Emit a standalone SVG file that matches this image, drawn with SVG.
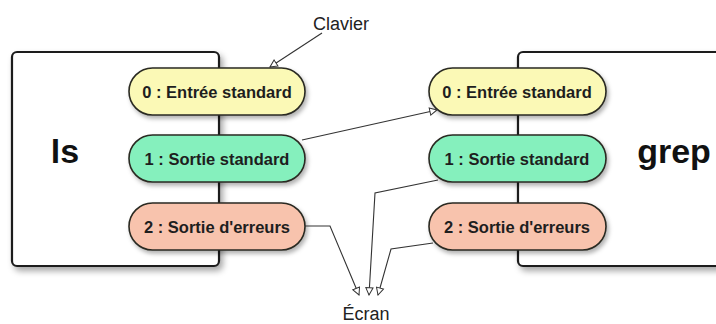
<svg xmlns="http://www.w3.org/2000/svg" width="716" height="324" viewBox="0 0 716 324">
<defs>
<filter id="sh" x="-10%" y="-10%" width="130%" height="130%">
<feDropShadow dx="3" dy="4" stdDeviation="3" flood-color="#000" flood-opacity="0.35"/>
</filter>
<filter id="shp" x="-10%" y="-20%" width="130%" height="150%">
<feDropShadow dx="2" dy="3" stdDeviation="2" flood-color="#000" flood-opacity="0.3"/>
</filter>
<marker id="arr" viewBox="0 0 10 10" refX="9" refY="5" markerWidth="9" markerHeight="9" markerUnits="userSpaceOnUse" orient="auto">
<path d="M1,1 L9,5 L1,9 Z" fill="#fff" stroke="#333" stroke-width="1.1"/>
</marker>
<style>
.box{fill:#fff;stroke:#1e1e1e;stroke-width:2.2}
.pill{stroke:#2a2a22;stroke-width:1.6}
.y{fill:#fbf9b6}
.g{fill:#85f0bd}
.s{fill:#f8c3ad}
.pt{font-family:"Liberation Sans",Arial,sans-serif;font-weight:bold;font-size:16.5px;fill:#1e1e1e;text-anchor:middle}
.big{font-family:"Liberation Sans",Arial,sans-serif;font-weight:bold;font-size:34px;fill:#111;text-anchor:middle}
.lbl{font-family:"Liberation Sans",Arial,sans-serif;font-size:18px;fill:#222;text-anchor:middle}
.c{fill:none;stroke:#333;stroke-width:1.1;marker-end:url(#arr)}
</style>
</defs>
<g id="ls">
<rect class="box" x="12" y="52" width="207" height="214" rx="5" filter="url(#sh)"/>
<text class="big" x="65" y="163">ls</text>
</g>
<g id="grep">
<rect class="box" x="518" y="52" width="240" height="214" rx="5" filter="url(#sh)"/>
<text class="big" x="674" y="163">grep</text>
</g>
<g id="ls-stdin">
<rect class="pill y" x="129" y="68" width="176" height="47" rx="23.5" filter="url(#shp)"/>
<text class="pt" x="217" y="98">0 : Entrée standard</text>
</g>
<g id="ls-stdout">
<rect class="pill g" x="129" y="135" width="176" height="47" rx="23.5" filter="url(#shp)"/>
<text class="pt" x="217" y="165">1 : Sortie standard</text>
</g>
<g id="ls-stderr">
<rect class="pill s" x="129" y="203" width="176" height="47" rx="23.5" filter="url(#shp)"/>
<text class="pt" x="217" y="233">2 : Sortie d'erreurs</text>
</g>
<g id="grep-stdin">
<rect class="pill y" x="429" y="68" width="177" height="47" rx="23.5" filter="url(#shp)"/>
<text class="pt" x="517" y="98">0 : Entrée standard</text>
</g>
<g id="grep-stdout">
<rect class="pill g" x="429" y="135" width="177" height="47" rx="23.5" filter="url(#shp)"/>
<text class="pt" x="517" y="165">1 : Sortie standard</text>
</g>
<g id="grep-stderr">
<rect class="pill s" x="429" y="203" width="177" height="47" rx="23.5" filter="url(#shp)"/>
<text class="pt" x="517" y="233">2 : Sortie d'erreurs</text>
</g>
<g id="clavier">
<text class="lbl" x="341" y="30">Clavier</text>
</g>
<g id="ecran">
<text class="lbl" x="366" y="320">Écran</text>
</g>
<g id="connectors">
<path class="c" d="M322,33 L270,67"/>
<path class="c" d="M302,140 L437,110"/>
<path class="c" d="M305,226 L330,226 L359,295"/>
<path class="c" d="M438,180 L375,193 L369,295"/>
<path class="c" d="M433,243 L391,249 L378,295"/>
</g>
</svg>
